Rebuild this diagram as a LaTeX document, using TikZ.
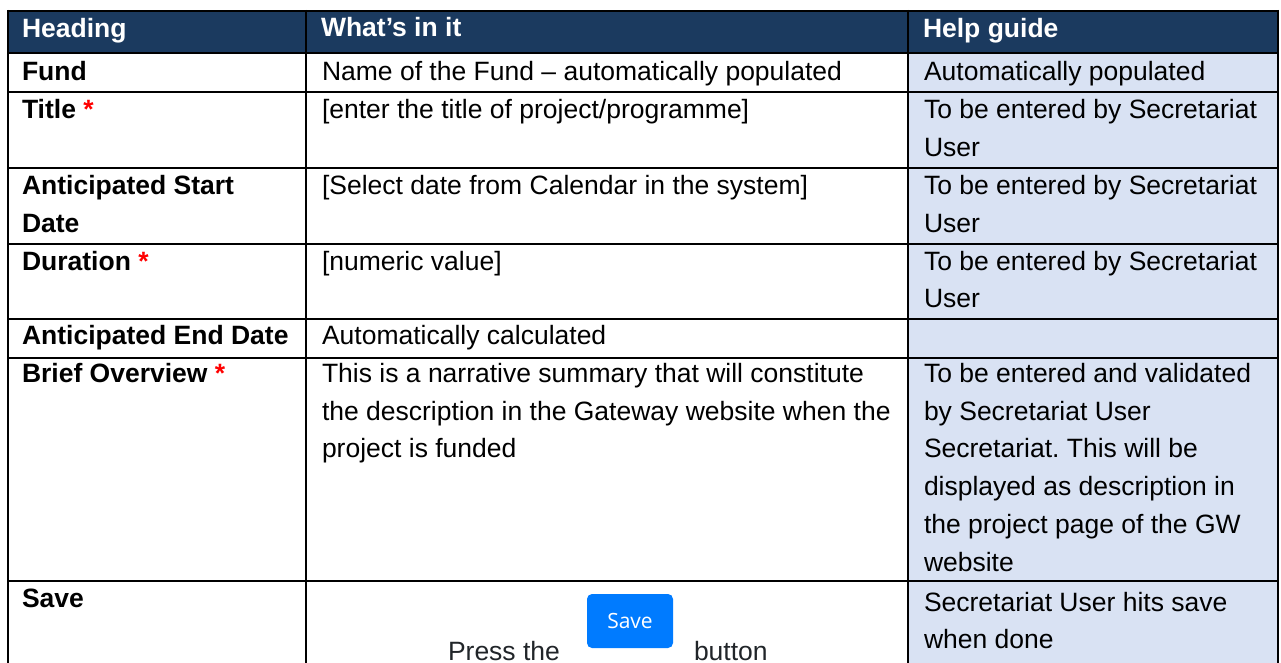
\documentclass[tikz,border=0pt]{standalone}
\usepackage{fontspec}
\setmainfont{Liberation Sans}
\newfontfamily\btnfont{Open Sans}
\definecolor{navy}{HTML}{1B3A5F}
\definecolor{helpblue}{HTML}{D9E2F3}
\definecolor{btnblue}{HTML}{007BFF}
\definecolor{darktext}{HTML}{212529}
\definecolor{starred}{HTML}{FF0000}
\frenchspacing
\newcommand\cellines[1]{\parbox[t]{640pt}{\hyphenpenalty=10000 #1}}
\newcommand\req{~{\color{starred}*}}
\tikzset{
  cell/.style={anchor=base west, inner sep=0pt, outer sep=0pt, text=black, font=\fontsize{26.5}{37.7}\selectfont},
  keycell/.style={cell, font=\bfseries\fontsize{26.5}{37.7}\selectfont},
  headcell/.style={cell, text=white, font=\bfseries\fontsize{26.5}{37.7}\selectfont},
  grid/.style={line width=2pt, black},
  btn/.style={fill=btnblue, rounded corners=5pt, minimum width=86pt, minimum height=54pt, inner sep=0pt, text=white, font=\btnfont\fontsize{21}{25}\selectfont},
  presstext/.style={cell, text=darktext}
}
\begin{document}
\begin{tikzpicture}[x=1pt,y=-1pt]
\useasboundingbox (0,0) rectangle (1281,663);
\clip (0,0) rectangle (1281,663);
% fills
\fill[navy] (8,11) rectangle (1278,53);
\fill[helpblue] (908,53) rectangle (1278,680);
% grid
\foreach \yy in {11,53,92,168,244,319,358,581}
  \draw[grid] (7,\yy) -- (1279,\yy);
\foreach \xx in {8,306,908,1278}
  \draw[grid] (\xx,10) -- (\xx,680);
% header
\node[headcell] (h1) at (22,37.5) {Heading};
\node[headcell] (h2) at (321,37) {What’s in it};
\node[headcell] (h3) at (923,37.5) {Help guide};
% Fund
\node[keycell] (r1a) at (22,81) {Fund};
\node[cell] (r1b) at (322,81) {Name of the Fund – automatically populated};
\node[cell] (r1c) at (924,81) {Automatically populated};
% Title
\node[keycell] (r2a) at (22,119) {Title\req};
\node[cell] (r2b) at (322,119) {[enter the title of project/programme]};
\node[cell] (r2c) at (924,119) {\cellines{To be entered by Secretariat\\User}};
% Anticipated start
\node[keycell] (r3a) at (22,194.5) {\cellines{Anticipated Start\\Date}};
\node[cell] (r3b) at (322,194.5) {[Select date from Calendar in the system]};
\node[cell] (r3c) at (924,194.5) {\cellines{To be entered by Secretariat\\User}};
% Duration
\node[keycell] (r4a) at (22,270) {Duration\req};
\node[cell] (r4b) at (322,270) {[numeric value]};
\node[cell] (r4c) at (924,270) {\cellines{To be entered by Secretariat\\User}};
% Anticipated end
\node[keycell] (r5a) at (22,344.5) {Anticipated End Date};
\node[cell] (r5b) at (322,344.5) {Automatically calculated};
% Brief overview
\node[keycell] (r6a) at (22,382.5) {Brief Overview\req};
\node[cell] (r6b) at (322,382.5) {\cellines{This is a narrative summary that will constitute\\the description in the Gateway website when the\\project is funded}};
\node[cell] (r6c) at (924,382.5) {\cellines{To be entered and validated\\by Secretariat User\\Secretariat. This will be\\displayed as description in\\the project page of the GW\\website}};
% Save
\node[keycell] (r7a) at (22,607) {Save};
\node[presstext] (press) at (448,660) {Press the};
\node[btn] (savebtn) at (630,621) {Save};
\node[presstext] (button) at (694,660) {button};
\node[cell] (r7c) at (924,611) {\cellines{Secretariat User hits save\\when done}};
\end{tikzpicture}
\end{document}
